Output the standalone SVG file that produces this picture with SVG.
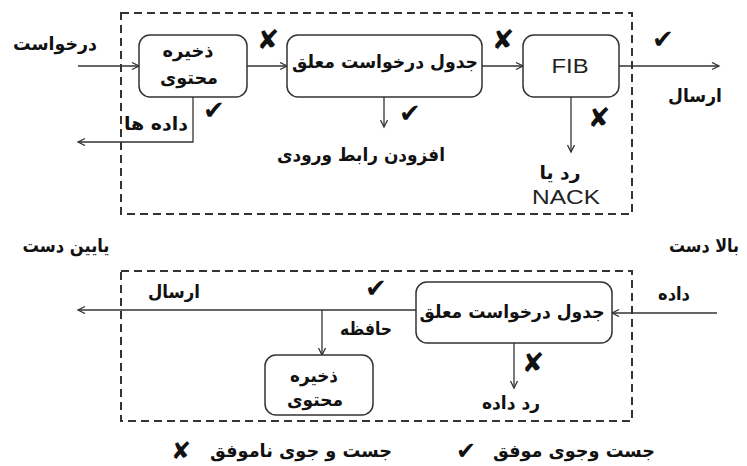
<svg xmlns="http://www.w3.org/2000/svg" width="747" height="466" viewBox="0 0 747 466">
<defs>
<marker id="arr" markerWidth="10" markerHeight="10" refX="8" refY="4" orient="auto" markerUnits="userSpaceOnUse">
<path d="M1,0.5 L8,4 L1,7.5" fill="none" stroke="#333" stroke-width="1.3"/>
</marker>
<style>
.fa{font-family:"DejaVu Sans","Noto Sans",sans-serif;font-weight:bold;font-size:18px;fill:#111;text-anchor:middle}
.en{font-family:"Liberation Sans",Arial,sans-serif;font-size:20px;fill:#222;text-anchor:middle}
.mk{font-family:"DejaVu Sans",sans-serif;font-weight:bold;font-size:27px;fill:#111;text-anchor:middle}
.ck{font-family:"DejaVu Sans",sans-serif;font-weight:bold;font-size:26px;fill:#111;text-anchor:middle}
.box{fill:#fff;stroke:#333;stroke-width:1.5}
.dash{fill:none;stroke:#333;stroke-width:2;stroke-dasharray:8,5}
.ln{fill:none;stroke:#333;stroke-width:1.3}
</style>
</defs>
<rect width="747" height="466" fill="#fff"/>
<rect class="dash" x="121" y="13" width="511" height="201"/>
<rect class="dash" x="121" y="271" width="511" height="150"/>
<g id="connectors">
<line class="ln" x1="78" y1="66" x2="139" y2="66" marker-end="url(#arr)"/>
<line class="ln" x1="247" y1="66" x2="287" y2="66" marker-end="url(#arr)"/>
<line class="ln" x1="482" y1="66" x2="523" y2="66" marker-end="url(#arr)"/>
<line class="ln" x1="619" y1="66" x2="719" y2="66" marker-end="url(#arr)"/>
<polyline class="ln" points="193,97 193,142 78,142" marker-end="url(#arr)"/>
<line class="ln" x1="384" y1="97" x2="384" y2="127" marker-end="url(#arr)"/>
<line class="ln" x1="571" y1="97" x2="571" y2="152" marker-end="url(#arr)"/>
<line class="ln" x1="717" y1="313" x2="612" y2="313" marker-end="url(#arr)"/>
<line class="ln" x1="416" y1="310" x2="78" y2="310" marker-end="url(#arr)"/>
<line class="ln" x1="322" y1="310" x2="322" y2="355" marker-end="url(#arr)"/>
<line class="ln" x1="514" y1="343" x2="514" y2="388" marker-end="url(#arr)"/>
</g>
<g id="cs1">
<rect class="box" x="139" y="35" width="108" height="62" rx="11"/>
<text class="fa" x="188" y="57" textLength="51" lengthAdjust="spacingAndGlyphs">ذخیره</text>
<text class="fa" x="189" y="84" textLength="58" lengthAdjust="spacingAndGlyphs">محتوی</text>
</g>
<g id="pit1">
<rect class="box" x="287" y="35" width="195" height="62" rx="11"/>
<text class="fa" x="385" y="68" textLength="186" lengthAdjust="spacingAndGlyphs">جدول درخواست معلق</text>
</g>
<g id="fib">
<rect class="box" x="523" y="35" width="96" height="62" rx="11"/>
<text class="en" x="570" y="73" textLength="37" lengthAdjust="spacingAndGlyphs">FIB</text>
</g>
<g id="pit2">
<rect class="box" x="416" y="282" width="196" height="61" rx="11"/>
<text class="fa" x="512" y="318" textLength="185" lengthAdjust="spacingAndGlyphs">جدول درخواست معلق</text>
</g>
<g id="cs2">
<rect class="box" x="265" y="355" width="108" height="60" rx="11"/>
<text class="fa" x="314" y="382" textLength="48" lengthAdjust="spacingAndGlyphs">ذخیره</text>
<text class="fa" x="315" y="406" textLength="56" lengthAdjust="spacingAndGlyphs">محتوی</text>
</g>
<g id="labels">
<text class="fa" x="55" y="50" textLength="84" lengthAdjust="spacingAndGlyphs">درخواست</text>
<text class="fa" x="695" y="102" textLength="54" lengthAdjust="spacingAndGlyphs">ارسال</text>
<text class="fa" x="156" y="130" textLength="64" lengthAdjust="spacingAndGlyphs">داده ها</text>
<text class="fa" x="361" y="161" textLength="168" lengthAdjust="spacingAndGlyphs">افزودن رابط ورودی</text>
<text class="fa" x="560" y="179" textLength="41" lengthAdjust="spacingAndGlyphs">رد یا</text>
<text class="en" x="566" y="204" textLength="68" lengthAdjust="spacingAndGlyphs">NACK</text>
<text class="fa" x="66" y="252" textLength="87" lengthAdjust="spacingAndGlyphs">یایین دست</text>
<text class="fa" x="704" y="252" textLength="70" lengthAdjust="spacingAndGlyphs">بالا دست</text>
<text class="fa" x="674" y="300" textLength="32" lengthAdjust="spacingAndGlyphs">داده</text>
<text class="fa" x="174" y="298" textLength="52" lengthAdjust="spacingAndGlyphs">ارسال</text>
<text class="fa" x="366" y="335" textLength="52" lengthAdjust="spacingAndGlyphs">حافظه</text>
<text class="fa" x="511" y="409" textLength="58" lengthAdjust="spacingAndGlyphs">رد داده</text>
<text class="fa" x="301" y="457" textLength="182" lengthAdjust="spacingAndGlyphs">جست و جوی ناموفق</text>
<text class="fa" x="574" y="457" textLength="162" lengthAdjust="spacingAndGlyphs">جست وجوی موفق</text>
</g>
<g id="marks">
<text class="mk" x="268" y="49">✘</text>
<text class="mk" x="503" y="49">✘</text>
<text class="mk" x="599" y="127">✘</text>
<text class="mk" x="533" y="372">✘</text>
<text class="mk" x="181" y="459" style="font-size:24px">✘</text>
<text class="ck" x="214" y="119">✔</text>
<text class="ck" x="410" y="122">✔</text>
<text class="ck" x="663" y="48">✔</text>
<text class="ck" x="376" y="297">✔</text>
<text class="ck" x="466" y="459" style="font-size:24px">✔</text>
</g>
</svg>
